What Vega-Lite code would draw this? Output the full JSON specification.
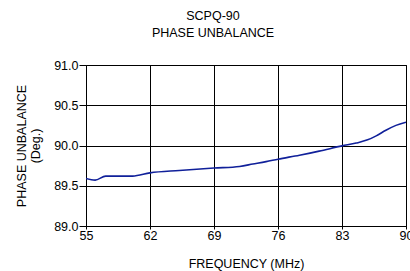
{
  "$schema": "https://vega.github.io/schema/vega-lite/v6.json",
  "autosize": "none",
  "width": 320,
  "height": 161,
  "padding": {"left": 86, "top": 65, "right": 4, "bottom": 45},
  "background": "white",
  "title": {
    "text": ["SCPQ-90", "PHASE UNBALANCE"],
    "font": "Liberation Sans",
    "fontSize": 12.5,
    "fontWeight": "normal",
    "color": "black",
    "lineHeight": 17,
    "anchor": "middle",
    "frame": "group",
    "dx": -33,
    "offset": 20
  },
  "config": {
    "view": {"stroke": "black", "strokeWidth": 1},
    "axis": {
      "labelFont": "Liberation Sans",
      "titleFont": "Liberation Sans",
      "labelFontSize": 12.5,
      "titleFontSize": 12.5,
      "titleFontWeight": "normal",
      "labelColor": "black",
      "titleColor": "black",
      "gridColor": "black",
      "gridOpacity": 1,
      "gridWidth": 1,
      "tickColor": "black",
      "domainColor": "black"
    }
  },
  "data": {
    "values": [
      {"f": 55.0, "p": 89.59},
      {"f": 56.0, "p": 89.57},
      {"f": 57.15, "p": 89.62},
      {"f": 58.5, "p": 89.62},
      {"f": 60.1, "p": 89.62},
      {"f": 62.0, "p": 89.66},
      {"f": 65.2, "p": 89.69},
      {"f": 69.0, "p": 89.72},
      {"f": 71.8, "p": 89.74},
      {"f": 73.25, "p": 89.77},
      {"f": 74.7, "p": 89.8},
      {"f": 76.0, "p": 89.83},
      {"f": 78.35, "p": 89.88},
      {"f": 80.5, "p": 89.93},
      {"f": 83.0, "p": 89.995},
      {"f": 84.55, "p": 90.03},
      {"f": 85.8, "p": 90.07},
      {"f": 86.74, "p": 90.12},
      {"f": 87.8, "p": 90.19},
      {"f": 88.9, "p": 90.25},
      {"f": 90.0, "p": 90.29}
    ]
  },
  "mark": {"type": "line", "color": "#10209a", "strokeWidth": 1.6, "interpolate": "monotone", "clip": true},
  "encoding": {
    "x": {
      "field": "f",
      "type": "quantitative",
      "scale": {"domain": [55, 90], "nice": false, "zero": false},
      "axis": {
        "values": [55, 62, 69, 76, 83, 90],
        "title": "FREQUENCY (MHz)",
        "titlePadding": 16,
        "tickSize": 3,
        "labelPadding": 0,
        "domain": false,
        "labelFlush": false
      }
    },
    "y": {
      "field": "p",
      "type": "quantitative",
      "scale": {"domain": [89, 91], "nice": false, "zero": false},
      "axis": {
        "values": [89, 89.5, 90, 90.5, 91],
        "format": ".1f",
        "title": ["PHASE UNBALANCE", "(Deg.)"],
        "titlePadding": 11,
        "tickSize": 7,
        "labelPadding": 1,
        "domain": false
      }
    }
  }
}
